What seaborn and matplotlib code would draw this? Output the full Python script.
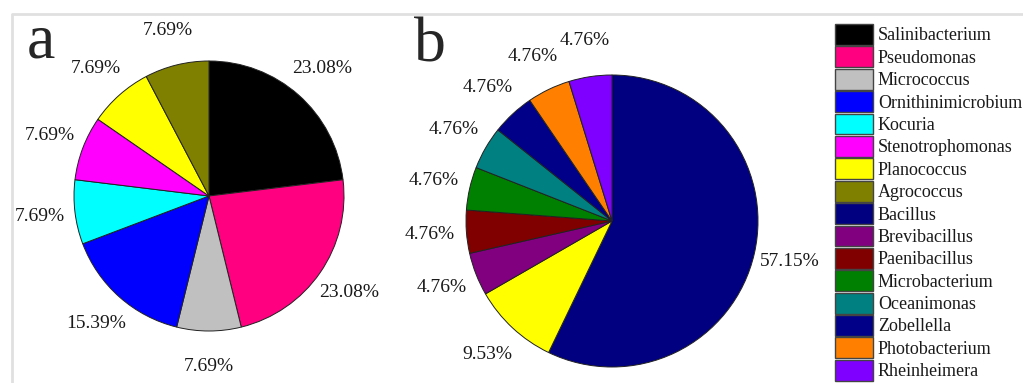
import numpy as np
import pandas as pd
import seaborn as sns
import matplotlib.pyplot as plt
from matplotlib.patches import Patch
from matplotlib.lines import Line2D

# panel a
genera_a = ['Salinibacterium', 'Pseudomonas', 'Micrococcus', 'Ornithinimicrobium',
            'Kocuria', 'Stenotrophomonas', 'Planococcus', 'Agrococcus']
share_a = [23.08, 23.08, 7.69, 15.39, 7.69, 7.69, 7.69, 7.69]

# panel b
genera_b = ['Bacillus', 'Planococcus', 'Brevibacillus', 'Paenibacillus', 'Microbacterium',
            'Oceanimonas', 'Zobellella', 'Photobacterium', 'Rheinheimera']
share_b = [57.15, 9.53, 4.76, 4.76, 4.76, 4.76, 4.76, 4.76, 4.76]

colors = {
    'Salinibacterium': '#000000', 'Pseudomonas': '#ff0080', 'Micrococcus': '#c0c0c0',
    'Ornithinimicrobium': '#0000ff', 'Kocuria': '#00ffff', 'Stenotrophomonas': '#ff00ff',
    'Planococcus': '#ffff00', 'Agrococcus': '#808000', 'Bacillus': '#000080',
    'Brevibacillus': '#800080', 'Paenibacillus': '#800000', 'Microbacterium': '#008000',
    'Oceanimonas': '#008080', 'Zobellella': '#000088', 'Photobacterium': '#ff8000',
    'Rheinheimera': '#8000ff',
}
legend_order = genera_a + [g for g in genera_b if g not in genera_a]

sns.set_style("white")
plt.rcParams['font.family'] = ['Liberation Serif', 'DejaVu Serif']

W, H = 1023, 383
fig = plt.figure(figsize=(W / 100, H / 100), dpi=100)


def draw_pie(cx, cy, r, names, values, dist):
    ax = fig.add_axes([(cx - r) / W, (H - cy - r) / H, 2 * r / W, 2 * r / H])
    wedges, texts = ax.pie(
        values,
        colors=[colors[n] for n in names],
        labels=['%.2f%%' % v for v in values],
        labeldistance=dist,
        startangle=90,
        counterclock=False,
        wedgeprops=dict(edgecolor='#222222', linewidth=0.7),
        textprops=dict(fontsize=14, color='#1a1a1a'),
    )
    for t in texts:
        t.set_ha('center')
        t.set_va('center')
    ax.set_xlim(-1, 1)
    ax.set_ylim(-1, 1)
    ax.axis('off')
    return ax


draw_pie(209, 196, 135, genera_a, share_a, 1.26)
draw_pie(612, 221, 146, genera_b, share_b, 1.25)

fig.text(27 / W, 1 - 57 / H, 'a', fontsize=46, va='baseline', ha='left')
fig.text(414 / W, 1 - 61 / H, 'b', fontsize=46, va='baseline', ha='left')

handles = [Patch(facecolor=colors[g], edgecolor='#444444', linewidth=1.0) for g in legend_order]
fig.legend(handles, legend_order, loc='upper left',
           bbox_to_anchor=(835 / W, 1 - 24 / H),
           frameon=False, fontsize=13, labelcolor='#1a1a1a',
           handlelength=2.1, handleheight=1.4, handletextpad=0.28,
           labelspacing=0.085, borderpad=0, borderaxespad=0)

# light frame around the figure
fig.add_artist(Line2D([12 / W, 12 / W, 1], [0, 1 - 14 / H, 1 - 14 / H],
                      transform=fig.transFigure, color='#e0e0e0', linewidth=2))

fig.savefig('out.png', dpi=100)
